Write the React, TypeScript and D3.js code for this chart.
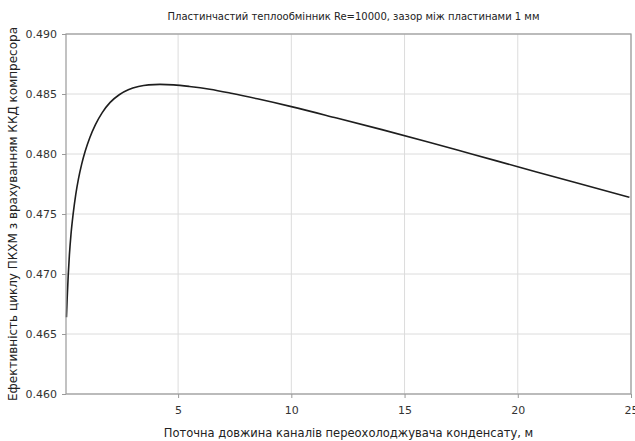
import React, { useEffect, useRef } from "react";
import * as d3 from "d3";

// channel length, m
const lengths = [0.07, 0.1, 0.146, 0.2, 0.27, 0.366, 0.48, 0.6, 0.74, 0.9, 1.1, 1.35, 1.65, 2.0, 2.4, 2.8, 3.25, 3.7, 4.2, 4.8, 5.5, 6.4, 7.4, 8.5, 10, 12, 14, 16, 18, 20, 22.5, 24.93];
// cycle efficiency
const efficiency = [0.4664, 0.4679, 0.4698, 0.47159, 0.4733, 0.47501, 0.47662, 0.47793, 0.47914, 0.48025, 0.48136, 0.48245, 0.48345, 0.4843, 0.48494, 0.48535, 0.48562, 0.48576, 0.4858, 0.48576, 0.48563, 0.4854, 0.48504, 0.4846, 0.48395, 0.483, 0.48203, 0.48102, 0.47998, 0.47894, 0.47764, 0.47639];

const xTicks = [5, 10, 15, 20, 25];
const yTicks = [0.46, 0.465, 0.47, 0.475, 0.48, 0.485, 0.49];

const title = "Пластинчастий теплообмінник Re=10000, зазор між пластинами 1 мм";
const xLabel = "Поточна довжина каналів переохолоджувача конденсату, м";
const yLabel = "Ефективність циклу ПКХМ з врахуванням ККД компресора";

function App() {
    const ref = useRef<SVGSVGElement>(null);

    let width = 635;
    let height = 441;
    let plot = { left: 66, right: 631, top: 34, bottom: 394 };

    let gridColor = "#dcdcdc";
    let spineColor = "#9a9a9a";
    let labelColor = "#333";
    let font = "DejaVu Sans, sans-serif";

    useEffect(() => {
        let svg = d3.select(ref.current);
        svg.selectAll("*").remove();

        let xScale = d3.scaleLinear().domain([0.05, 25]).range([plot.left, plot.right]);
        let yScale = d3.scaleLinear().domain([0.46, 0.49]).range([plot.bottom, plot.top]);

        // grid
        svg.append("g")
            .selectAll("line")
            .data(xTicks)
            .enter()
            .append("line")
            .attr("x1", (d) => xScale(d))
            .attr("x2", (d) => xScale(d))
            .attr("y1", plot.top)
            .attr("y2", plot.bottom)
            .style("stroke", gridColor)
            .style("stroke-width", 1);

        svg.append("g")
            .selectAll("line")
            .data(yTicks)
            .enter()
            .append("line")
            .attr("x1", plot.left)
            .attr("x2", plot.right)
            .attr("y1", (d) => yScale(d))
            .attr("y2", (d) => yScale(d))
            .style("stroke", gridColor)
            .style("stroke-width", 1);

        // curve
        let points = lengths.map((x, i) => [x, efficiency[i]] as [number, number]);
        let line = d3
            .line<[number, number]>()
            .x((d) => xScale(d[0]))
            .y((d) => yScale(d[1]))
            .curve(d3.curveMonotoneX);

        svg.append("path")
            .attr("d", line(points))
            .style("fill", "none")
            .style("stroke", "#1e1e1e")
            .style("stroke-width", 1.6);

        // spines
        svg.append("rect")
            .attr("x", plot.left)
            .attr("y", plot.top)
            .attr("width", plot.right - plot.left)
            .attr("height", plot.bottom - plot.top)
            .style("fill", "none")
            .style("stroke", spineColor)
            .style("stroke-width", 1.2);

        // ticks
        let xAxis = d3.axisBottom(xScale).tickValues(xTicks).tickSize(4).tickPadding(8).tickFormat(d3.format("d"));
        let gx = svg.append("g").attr("transform", "translate(0," + plot.bottom + ")").call(xAxis);
        gx.select(".domain").remove();

        let yAxis = d3.axisLeft(yScale).tickValues(yTicks).tickSize(4).tickPadding(5).tickFormat(d3.format(".3f"));
        let gy = svg.append("g").attr("transform", "translate(" + plot.left + ",0)").call(yAxis);
        gy.select(".domain").remove();

        svg.selectAll(".tick line").style("stroke", spineColor);
        svg.selectAll(".tick text")
            .style("fill", labelColor)
            .style("font-family", font)
            .style("font-size", "11px");

        // labels
        svg.append("text")
            .attr("x", (plot.left + plot.right) / 2 + 5)
            .attr("y", 20)
            .attr("text-anchor", "middle")
            .style("fill", "#222")
            .style("font-family", font)
            .style("font-size", "10px")
            .text(title);

        svg.append("text")
            .attr("x", (plot.left + plot.right) / 2)
            .attr("y", 437)
            .attr("text-anchor", "middle")
            .style("fill", "#222")
            .style("font-family", font)
            .style("font-size", "11.5px")
            .text(xLabel);

        svg.append("text")
            .attr("text-anchor", "middle")
            .attr("transform", "translate(17," + (plot.top + plot.bottom) / 2 + "), rotate(-90)")
            .style("fill", "#222")
            .style("font-family", font)
            .style("font-size", "12px")
            .text(yLabel);
    }, []);

    return (
        <svg
            ref={ref}
            width={width}
            height={height}
            style={{ position: "fixed", left: 0, top: 0, background: "#fff" }}
        ></svg>
    );
}

export default App;
